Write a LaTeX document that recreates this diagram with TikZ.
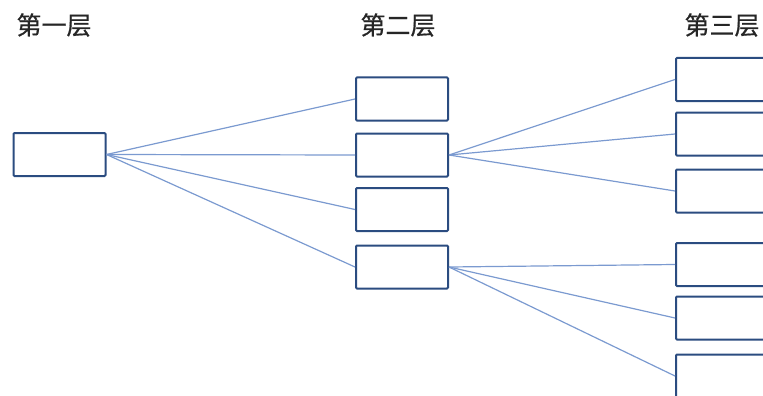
\documentclass[tikz,border=0pt]{standalone}
\usepackage{fontspec}
\newfontfamily\cjk[FakeBold=0.6]{Noto Sans CJK SC}
\definecolor{boxblue}{HTML}{2B4C80}
\definecolor{lineblue}{HTML}{7B9AD0}
\begin{document}
\begin{tikzpicture}[x=1pt,y=-1pt,
  box/.style={draw=boxblue, line width=2pt, fill=white, minimum width=92pt, minimum height=43pt, inner sep=0pt, rounded corners=1pt},
  link/.style={draw=lineblue, line width=1.2pt},
  title/.style={font=\cjk\fontsize{25}{28}\selectfont, text=black!85, inner sep=0pt}]
\useasboundingbox (0,0) rectangle (763,396);
\clip (0,0) rectangle (763,396);
\node[title] (t1) at (54,25) {第一层};
\node[title] (t2) at (398,25) {第二层};
\node[title] (t3) at (722,25) {第三层};
\node[box] (a) at (59.5,154.5) {};
\node[box] (b1) at (402,99) {};
\node[box] (b2) at (402,155) {};
\node[box] (b3) at (402,209.5) {};
\node[box] (b4) at (402,267) {};
\node[box] (c1) at (722,79.5) {};
\node[box] (c2) at (722,134) {};
\node[box] (c3) at (722,191) {};
\node[box] (c4) at (722,264.5) {};
\node[box] (c5) at (722,318) {};
\node[box] (c6) at (722,376) {};
\foreach \n in {b1,b2,b3,b4} \draw[link] (a.east) -- (\n.west);
\foreach \n in {c1,c2,c3} \draw[link] (b2.east) -- (\n.west);
\foreach \n in {c4,c5,c6} \draw[link] (b4.east) -- (\n.west);
\end{tikzpicture}
\end{document}
